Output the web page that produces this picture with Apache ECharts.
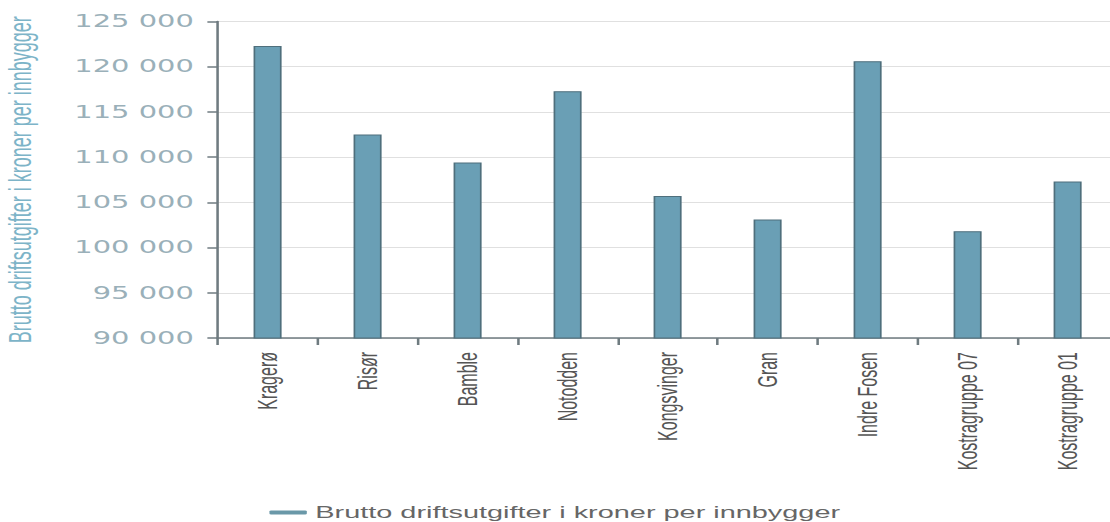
<!DOCTYPE html>
<html>
<head>
<meta charset="utf-8">
<script src="https://cdn.jsdelivr.net/npm/echarts@6/dist/echarts.min.js"></script>
<style>
html,body{margin:0;padding:0;background:#fff;overflow:hidden;}
#c{width:653px;height:522px;transform:scaleX(1.6998);transform-origin:0 0;}
</style>
</head>
<body>
<div id="c"></div>
<script>
const categories = ["Kragerø","Risør","Bamble","Notodden","Kongsvinger","Gran","Indre Fosen","Kostragruppe 07","Kostragruppe 01"];
const values = [122300,112500,109400,117300,105700,103100,120600,101800,107300];
const seriesName = "Brutto driftsutgifter i kroner per innbygger";
const yAxisTitle = "Brutto driftsutgifter i kroner per innbygger";

function fmt(v){ return String(v).replace(/\B(?=(\d{3})+(?!\d))/g, ' '); }

const chart = echarts.init(document.getElementById('c'), null, {renderer:'svg'});
chart.setOption({
  animation:false,
  backgroundColor:'#fff',
  grid:{left:128, right:-4.5, top:21.5, bottom:184, containLabel:false, outerBoundsMode:'none'},
  legend:{
    data:[seriesName], top:499, left:'center',
    icon:'roundRect', itemWidth:22, itemHeight:4, itemGap:10,
    itemStyle:{color:'#6a98a8', borderWidth:0},
    textStyle:{color:'#666', fontSize:17, fontFamily:'Liberation Sans'}
  },
  xAxis:{
    type:'category', data:categories,
    axisLine:{lineStyle:{color:'#6f7b80', width:1.5}},
    axisTick:{show:true, length:7, lineStyle:{color:'#6f7b80', width:1.5}},
    axisLabel:{rotate:90, margin:14, color:'#555', fontSize:16, fontFamily:'Liberation Sans', interval:0}
  },
  yAxis:{
    type:'value', min:90000, max:125000, interval:5000,
    name:yAxisTitle, nameLocation:'middle', nameGap:107,
    nameTextStyle:{color:'#7db4c8', fontSize:18, fontFamily:'Liberation Sans'},
    axisLine:{show:true, lineStyle:{color:'#6f7b80', width:1.5}},
    axisTick:{show:true, length:6, lineStyle:{color:'#6f7b80', width:1.5}},
    axisLabel:{margin:14, color:'#9ab0b9', fontSize:17, fontFamily:'DejaVu Sans', formatter:fmt},
    splitLine:{show:true, lineStyle:{color:'#e0e0e0', width:1}}
  },
  series:[{
    name:seriesName, type:'bar', data:values, barWidth:16.5,
    itemStyle:{color:'#6a9fb5', borderColor:'#4f6f7c', borderWidth:1}
  }]
});
</script>
</body>
</html>
